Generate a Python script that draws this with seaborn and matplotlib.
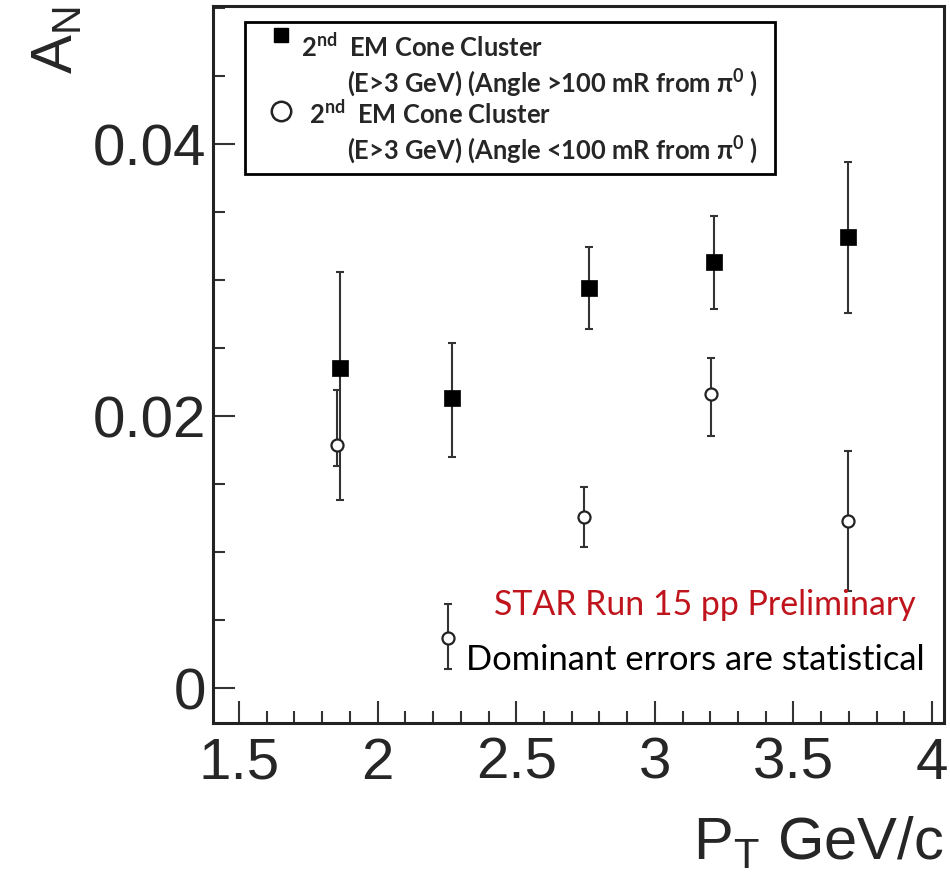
import numpy as np
import seaborn as sns
import matplotlib.pyplot as plt
from matplotlib.lines import Line2D
from matplotlib.patches import Rectangle
from matplotlib.ticker import MultipleLocator

# 2nd EM cone cluster, angle > 100 mR from pi0 (filled squares)
pt_far = [1.865, 2.269, 2.764, 3.215, 3.695]
an_far = [0.0235, 0.0213, 0.0294, 0.0313, 0.0332]
far_low = [0.0138, 0.0170, 0.0264, 0.0279, 0.0276]
far_high = [0.0306, 0.0254, 0.0324, 0.0347, 0.0387]

# 2nd EM cone cluster, angle < 100 mR from pi0 (open circles)
pt_near = [1.854, 2.255, 2.745, 3.204, 3.695]
an_near = [0.0179, 0.0037, 0.0126, 0.0216, 0.0123]
near_low = [0.0163, 0.0014, 0.0104, 0.0185, 0.0071]
near_high = [0.0219, 0.0062, 0.0148, 0.0243, 0.0174]

x_ticks = [1.5, 2, 2.5, 3, 3.5, 4]
x_ticklabels = ['1.5', '2', '2.5', '3', '3.5', '4']
y_ticks = [0, 0.02, 0.04]
y_ticklabels = ['0', '0.02', '0.04']

legend_lines = [
    r'2$^{nd}$  EM Cone Cluster',
    r'(E>3 GeV) (Angle >100 mR from π$^{0}$ )',
    r'2$^{nd}$  EM Cone Cluster',
    r'(E>3 GeV) (Angle <100 mR from π$^{0}$ )',
]

sns.set_style('white')
plt.rcParams['font.family'] = ['Liberation Sans', 'DejaVu Sans']
plt.rcParams['mathtext.default'] = 'regular'

W, H = 950, 893
fig = plt.figure(figsize=(W / 100, H / 100), dpi=100)
ax = fig.add_axes([212.7 / W, 1 - 722.7 / H, (944 - 212.7) / W, (722.7 - 6) / H])


def fx(px):
    return px / W


def fy(py):
    return 1 - py / H


err_kw = dict(fmt='none', ecolor='#333333', elinewidth=1.5, capsize=3, capthick=1.5, zorder=2)
ax.errorbar(pt_far, an_far,
            yerr=[np.subtract(an_far, far_low), np.subtract(far_high, an_far)], **err_kw)
ax.errorbar(pt_near, an_near,
            yerr=[np.subtract(an_near, near_low), np.subtract(near_high, an_near)], **err_kw)

sns.scatterplot(x=pt_far, y=an_far, marker='s', s=145, color='black',
                edgecolor='black', linewidth=0.5, ax=ax, zorder=3)
sns.scatterplot(x=pt_near, y=an_near, marker='o', s=75, color='white',
                edgecolor='#222222', linewidth=1.6, ax=ax, zorder=3)

ax.set_xlim(1.405, 4.043)
ax.set_ylim(-0.00255, 0.05015)
ax.set_xticks(x_ticks)
ax.set_xticklabels(x_ticklabels)
ax.set_yticks(y_ticks)
ax.set_yticklabels(y_ticklabels)
ax.xaxis.set_minor_locator(MultipleLocator(0.1))
ax.yaxis.set_minor_locator(MultipleLocator(0.005))
ax.tick_params(which='both', direction='in', width=1.5, color='#333333',
               bottom=True, left=True, top=False, right=False)
ax.tick_params(which='major', length=16, labelsize=42)
ax.tick_params(which='minor', length=8.5)
ax.tick_params(axis='x', which='major', pad=10)
ax.tick_params(axis='y', which='major', pad=5)
for sp in ax.spines.values():
    sp.set_visible(True)
    sp.set_linewidth(2.2)
    sp.set_color('#222222')

ax.set_xlabel('P$_T$ GeV/c', fontsize=43, loc='right', labelpad=18)
ax.set_ylabel('A$_N$', fontsize=42, loc='top', labelpad=6)

# legend box drawn by hand (ROOT-style layout)
fig.add_artist(Rectangle((fx(245), fy(174)), (775 - 245) / W, (174 - 22) / H,
                         transform=fig.transFigure, fill=False,
                         edgecolor='black', linewidth=2))
fig.add_artist(Line2D([fx(281)], [fy(35)], marker='s', markersize=10, color='black',
                      transform=fig.transFigure))
fig.add_artist(Line2D([fx(281)], [fy(111)], marker='o', markersize=14, markerfacecolor='white',
                      markeredgecolor='#222222', markeredgewidth=1.8, linestyle='none',
                      transform=fig.transFigure))

leg_font = ['Lato', 'DejaVu Sans']
leg_pos = [(301, 57), (347, 92), (309, 124), (347, 159)]
for txt, (px, py) in zip(legend_lines, leg_pos):
    fig.text(fx(px), fy(py), txt, fontsize=18.4, fontweight='bold', family=leg_font,
             ha='left', va='baseline')

fig.text(fx(494), fy(615), 'STAR Run 15 pp Preliminary', fontsize=24.4, color='#C0141C',
         family=leg_font, ha='left', va='baseline')
fig.text(fx(466), fy(670), 'Dominant errors are statistical', fontsize=24.8, color='black',
         family=leg_font, ha='left', va='baseline')

fig.savefig('out.png', dpi=100)
